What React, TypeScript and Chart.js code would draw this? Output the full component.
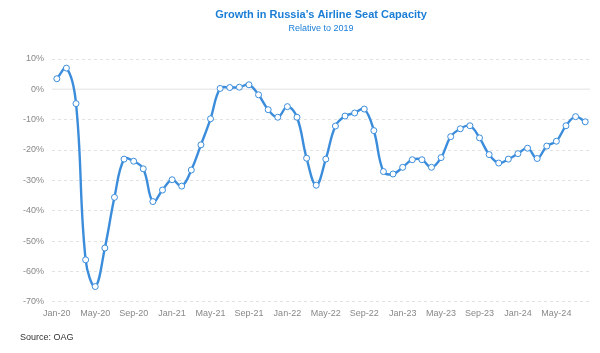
import React, { useEffect, useRef } from "react";
import { Chart, registerables } from "chart.js";

Chart.register(...registerables);

const months: string[] = [
  "Jan-20", "Feb-20", "Mar-20", "Apr-20", "May-20", "Jun-20", "Jul-20", "Aug-20", "Sep-20", "Oct-20", "Nov-20", "Dec-20",
  "Jan-21", "Feb-21", "Mar-21", "Apr-21", "May-21", "Jun-21", "Jul-21", "Aug-21", "Sep-21", "Oct-21", "Nov-21", "Dec-21",
  "Jan-22", "Feb-22", "Mar-22", "Apr-22", "May-22", "Jun-22", "Jul-22", "Aug-22", "Sep-22", "Oct-22", "Nov-22", "Dec-22",
  "Jan-23", "Feb-23", "Mar-23", "Apr-23", "May-23", "Jun-23", "Jul-23", "Aug-23", "Sep-23", "Oct-23", "Nov-23", "Dec-23",
  "Jan-24", "Feb-24", "Mar-24", "Apr-24", "May-24", "Jun-24", "Jul-24", "Aug-24",
];

const seatGrowth: number[] = [
  3.5, 7.0, -4.7, -56.2, -65.0, -52.3, -35.6, -23.0, -23.7, -26.2, -37.0, -33.2,
  -29.8, -31.9, -26.6, -18.3, -9.7, 0.3, 0.6, 0.7, 1.5, -1.8, -6.7, -9.2,
  -5.7, -9.2, -22.7, -31.6, -23.0, -12.1, -8.8, -7.8, -6.5, -13.6, -27.1, -27.9,
  -25.7, -23.2, -23.2, -25.7, -22.5, -15.6, -13.0, -12.0, -16.0, -21.5, -24.3, -23.0,
  -21.2, -19.4, -22.8, -18.7, -17.1, -12.0, -9.0, -10.7,
];

const yTicksMin = -70;
const yTicksMax = 10;
const yTickStep = 10;

const titleText = "Growth in Russia\u2019s Airline Seat Capacity";
const subtitleText = "Relative to 2019";
const sourceText = "Source: OAG";

const FONT = "'Liberation Sans', Arial, sans-serif";

export default function App() {
  const ref = useRef<HTMLCanvasElement | null>(null);

  useEffect(() => {
    document.body.style.margin = "0";
    const canvas = ref.current;
    if (!canvas) return;

    const zeroLine = {
      id: "zeroLine",
      beforeDatasetsDraw(chart: any) {
        const { ctx, chartArea, scales } = chart;
        const y = scales.y.getPixelForValue(0);
        ctx.save();
        ctx.strokeStyle = "#ebebeb";
        ctx.lineWidth = 1.5;
        ctx.beginPath();
        ctx.moveTo(chartArea.left, y);
        ctx.lineTo(chartArea.right, y);
        ctx.stroke();
        ctx.restore();
      },
    };

    const sourcePlugin = {
      id: "sourceNote",
      afterDraw(chart: any) {
        const { ctx } = chart;
        ctx.save();
        ctx.font = `9px ${FONT}`;
        ctx.fillStyle = "#333333";
        ctx.textAlign = "left";
        ctx.textBaseline = "middle";
        ctx.fillText(sourceText, 20, 338);
        ctx.restore();
      },
    };

    const chart = new Chart(canvas, {
      type: "line",
      data: {
        labels: months,
        datasets: [
          {
            data: seatGrowth,
            borderColor: "#3b8ddb",
            borderWidth: 2.4,
            backgroundColor: "#3b8ddb",
            pointBackgroundColor: "#ffffff",
            pointBorderColor: "#3b8ddb",
            pointBorderWidth: 1,
            pointRadius: 3,
            tension: 0.4,
            fill: false,
          },
        ],
      },
      options: {
        animation: false,
        responsive: false,
        maintainAspectRatio: false,
        layout: { padding: { left: 15, right: 10, top: 0, bottom: 28.5 } },
        plugins: {
          legend: { display: false },
          tooltip: { enabled: false },
          title: {
            display: true,
            fullSize: false,
            text: titleText,
            color: "#1b7ed6",
            font: { family: FONT, size: 11, weight: "bold" },
            padding: { top: 8, bottom: 2 },
          },
          subtitle: {
            display: true,
            fullSize: false,
            text: subtitleText,
            color: "#1b7ed6",
            font: { family: FONT, size: 9 },
            padding: { top: 0, bottom: 25 },
          },
        },
        scales: {
          x: {
            type: "category",
            offset: true,
            grid: { display: false, drawTicks: false },
            border: { display: false },
            ticks: {
              autoSkip: false,
              maxRotation: 0,
              padding: 6,
              color: "#888888",
              font: { family: FONT, size: 9 },
              callback: (_v: any, i: number) => (i % 4 === 0 ? months[i] : ""),
            },
          },
          y: {
            min: yTicksMin,
            max: yTicksMax,
            grid: {
              drawTicks: false,
              color: (ctx: any) => (ctx.tick && ctx.tick.value === 0 ? "rgba(0,0,0,0)" : "#e2e2e2"),
              lineWidth: 1,
            },
            border: { display: false, dash: [3, 3] },
            ticks: {
              stepSize: yTickStep,
              padding: 8,
              color: "#888888",
              font: { family: FONT, size: 9 },
              callback: (v: any) => `${v}%`,
            },
          },
        },
      },
      plugins: [zeroLine, sourcePlugin],
    });

    return () => chart.destroy();
  }, []);

  return (
    <div style={{ width: 600, height: 353, background: "#ffffff" }}>
      <canvas ref={ref} width={600} height={353} style={{ width: 600, height: 353, display: "block" }} />
    </div>
  );
}
